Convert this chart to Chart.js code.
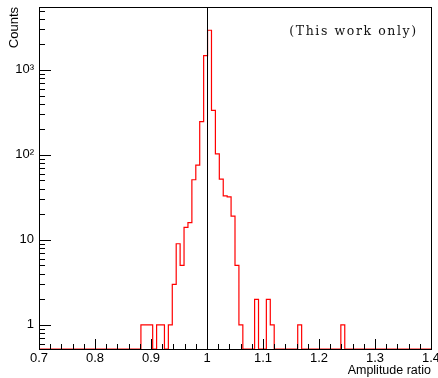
<!DOCTYPE html>
<html>
<head>
<meta charset="utf-8">
<script src="https://cdn.jsdelivr.net/npm/chart.js@4.4.0/dist/chart.umd.min.js"></script>
<style>
  html, body { margin: 0; padding: 0; background: #fff; }
  canvas { display: block; }
</style>
</head>
<body>
<canvas id="graph" width="438" height="378"></canvas>
<script>
// histogram, 100 bins between 0.7 and 1.4
const xLow = 0.7;
const xHigh = 1.4;
const counts = [
  0, 0, 0, 0, 0, 0, 0, 0, 0, 0,
  0, 0, 0, 0, 0, 0, 0, 0, 0, 0,
  0, 0, 0, 0, 0, 0, 1, 1, 1, 0,
  1, 1, 0, 1, 3, 9, 5, 14, 16, 51,
  76, 246, 1475, 2930, 334, 103, 52, 33, 32, 19,
  5, 1, 0, 0, 0, 2, 0, 0, 2, 1,
  0, 0, 0, 0, 0, 0, 1, 0, 0, 0,
  0, 0, 0, 0, 0, 0, 0, 1, 0, 0,
  0, 0, 0, 0, 0, 0, 0, 0, 0, 0,
  0, 0, 0, 0, 0, 0, 0, 0, 0, 0
];
const yMin = 0.52;
const yMax = 5500;
const markerX = 1.0; // vertical reference line

const xTickValues = [0.7, 0.8, 0.9, 1.0, 1.1, 1.2, 1.3, 1.4];
const xTickLabels = ["0.7", "0.8", "0.9", "1", "1.1", "1.2", "1.3", "1.4"];
const xMinorTicks = [0.72, 0.74, 0.76, 0.78, 0.82, 0.84, 0.86, 0.88, 0.92, 0.94, 0.96, 0.98,
  1.02, 1.04, 1.06, 1.08, 1.12, 1.14, 1.16, 1.18, 1.22, 1.24, 1.26, 1.28, 1.32, 1.34, 1.36, 1.38];
const yTickValues = [1, 10, 100, 1000];
const yTickLabels = ["1", "10", "10\u00b2", "10\u00b3"];
const yMinorTicks = [0.6, 0.7, 0.8, 0.9, 2, 3, 4, 5, 6, 7, 8, 9, 20, 30, 40, 50, 60, 70, 80, 90,
  200, 300, 400, 500, 600, 700, 800, 900, 2000, 3000, 4000, 5000];

// build step points: left edge of each bin + closing point at the right edge
const nBins = counts.length;
const binWidth = (xHigh - xLow) / nBins;
let histPoints = [];
for (let i = 0; i < nBins; i++) {
  histPoints.push({ x: xLow + i * binWidth, y: counts[i] > 0 ? counts[i] : yMin });
}
histPoints.push({ x: xHigh, y: counts[nBins - 1] > 0 ? counts[nBins - 1] : yMin });

const ctx = document.getElementById("graph").getContext('2d');

function drawTicks(chart) {
  const c = chart.ctx;
  const a = chart.chartArea;
  const xs = chart.scales.x;
  const ys = chart.scales.y;
  c.save();
  c.strokeStyle = '#000';
  c.lineWidth = 1;
  c.beginPath();
  xTickValues.forEach(v => {
    let px = Math.round(xs.getPixelForValue(v)) + 0.5;
    c.moveTo(px, a.bottom); c.lineTo(px, a.bottom - 10);
  });
  xMinorTicks.forEach(v => {
    let px = Math.round(xs.getPixelForValue(v)) + 0.5;
    c.moveTo(px, a.bottom); c.lineTo(px, a.bottom - 5);
  });
  yTickValues.forEach(v => {
    let py = Math.round(ys.getPixelForValue(v)) + 0.5;
    c.moveTo(a.left, py); c.lineTo(a.left + 12, py);
  });
  yMinorTicks.forEach(v => {
    let py = Math.round(ys.getPixelForValue(v)) + 0.5;
    c.moveTo(a.left, py); c.lineTo(a.left + 6, py);
  });
  c.stroke();
  c.restore();
}

const framePlugin = {
  id: 'frame',
  beforeDatasetsDraw(chart) {
    const c = chart.ctx;
    const a = chart.chartArea;
    c.save();
    c.strokeStyle = '#000';
    c.lineWidth = 1;
    c.strokeRect(a.left + 0.5, a.top + 0.5, a.right - a.left, a.bottom - a.top);
    c.restore();
  },
  afterDatasetsDraw(chart) {
    drawTicks(chart);
    const c = chart.ctx;
    const a = chart.chartArea;
    // vertical line at markerX, snapped to a pixel so it stays crisp
    let mx = Math.round(chart.scales.x.getPixelForValue(markerX)) + 0.5;
    c.save();
    c.strokeStyle = '#000';
    c.lineWidth = 1;
    c.beginPath();
    c.moveTo(mx, a.top);
    c.lineTo(mx, a.bottom);
    c.stroke();
    c.fillStyle = '#111';
    c.font = '12.5px "DejaVu Serif"';
    c.letterSpacing = '1.6px';
    c.textAlign = 'center';
    c.textBaseline = 'middle';
    c.fillText("(This work only)", 353.5, 31.5);
    c.restore();
  }
};

const dataChart = new Chart(ctx, {
  type: 'line',
  data: {
    datasets: [
      {
        data: histPoints,
        stepped: true,
        borderColor: '#ff0000',
        borderWidth: 1.2,
        pointRadius: 0
      }
    ]
  },
  options: {
    responsive: false,
    animation: false,
    devicePixelRatio: 1,
    layout: { padding: { top: 7, right: 7, left: 0, bottom: 0 } },
    plugins: { legend: { display: false }, tooltip: { enabled: false } },
    scales: {
      x: {
        type: 'linear',
        min: xLow,
        max: xHigh,
        grid: { display: false, drawTicks: false },
        border: { display: false },
        afterBuildTicks: s => { s.ticks = xTickValues.map(v => ({ value: v })); },
        afterFit: s => { s.height = 29; s.paddingLeft = 0; s.paddingRight = 0; },
        ticks: {
          autoSkip: false, maxRotation: 0, padding: 2, color: '#000',
          font: { family: 'Liberation Sans', size: 13 },
          callback: (v, i) => xTickLabels[i]
        },
        title: {
          display: true, text: 'Amplitude ratio', align: 'end', color: '#000',
          font: { family: 'Liberation Sans', size: 12.5 }, padding: { top: 0, bottom: 0 }
        }
      },
      y: {
        type: 'logarithmic',
        min: yMin,
        max: yMax,
        grid: { display: false, drawTicks: false },
        border: { display: false },
        afterBuildTicks: s => { s.ticks = yTickValues.map(v => ({ value: v })); },
        afterFit: s => { s.width = 39; s.paddingTop = 0; s.paddingBottom = 0; },
        ticks: {
          autoSkip: false, padding: 5, color: '#000',
          font: { family: 'Liberation Sans', size: 13 },
          callback: (v, i) => yTickLabels[i]
        },
        title: {
          display: true, text: 'Counts', align: 'end', color: '#000',
          font: { family: 'Liberation Sans', size: 13 }, padding: { top: 6.5, bottom: 0 }
        }
      }
    }
  },
  plugins: [framePlugin]
});
</script>
</body>
</html>
